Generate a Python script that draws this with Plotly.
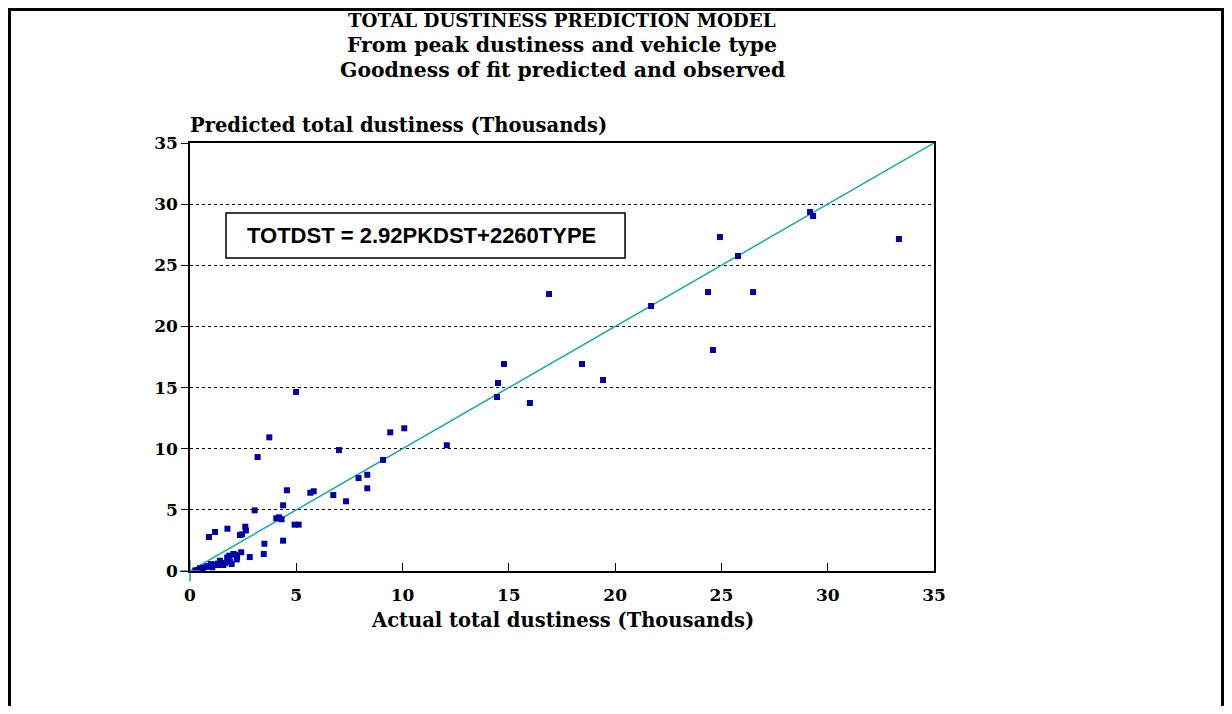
import plotly.graph_objects as go

# Observed (actual) vs predicted total dustiness, thousands
actual = [29.17, 29.31, 33.35, 24.93, 24.37, 26.49, 25.78, 24.60, 21.69, 16.89,
          18.44, 19.43, 14.77, 14.49, 14.44, 15.99, 12.08, 10.08, 9.42, 9.08,
          4.99, 3.73, 3.18, 7.01, 7.93, 8.34, 8.34, 7.34, 6.74, 5.66,
          5.82, 4.56, 4.38, 3.04, 4.92, 5.11, 4.06, 4.19, 4.31, 4.38,
          3.50, 3.47, 0.89, 1.18, 1.76, 2.60, 2.63, 2.35, 2.45, 2.81,
          2.41, 2.21, 2.12, 1.85, 2.04, 1.96, 1.88, 1.41, 1.57, 1.41,
          1.18, 0.99, 0.78, 0.63, 0.47, 0.39, 0.25, 0.55, 0.85, 1.05,
          1.30, 1.65, 2.20, 1.75]
predicted = [29.36, 29.03, 27.15, 27.31, 22.81, 22.81, 25.76, 18.07, 21.67, 22.65,
             16.93, 15.62, 16.93, 15.37, 14.23, 13.74, 10.28, 11.67, 11.34, 9.08,
             14.64, 10.93, 9.32, 9.89, 7.60, 7.87, 6.76, 5.70, 6.21, 6.40,
             6.52, 6.60, 5.37, 4.96, 3.79, 3.79, 4.31, 4.39, 4.23, 2.48,
             2.23, 1.39, 2.78, 3.19, 3.46, 3.62, 3.32, 2.94, 3.00, 1.14,
             1.53, 1.14, 1.33, 1.25, 1.39, 0.57, 0.76, 0.84, 0.49, 0.49,
             0.49, 0.57, 0.35, 0.27, 0.22, 0.08, 0.05, 0.15, 0.40, 0.30,
             0.60, 0.65, 0.95, 1.10]
fit_line = [0, 35]
tick_vals = [0, 5, 10, 15, 20, 25, 30, 35]

SERIF = "DejaVu Serif"

fig = go.Figure()
fig.add_trace(go.Scatter(
    x=fit_line, y=fit_line, mode="lines",
    line=dict(color="#14AAAA", width=1.5), hoverinfo="skip", showlegend=False))
fig.add_trace(go.Scatter(
    x=actual, y=predicted, mode="markers",
    marker=dict(symbol="square", size=6, color="#0000A8", line=dict(width=0)),
    showlegend=False))
fig.add_trace(go.Scatter(
    x=[fit_line[0]], y=[fit_line[0]], mode="markers", cliponaxis=False,
    marker=dict(symbol="cross-thin", size=15, line=dict(color="#14AAAA", width=1.5)),
    hoverinfo="skip", showlegend=False))

# page body has an 8px margin; size the figure so it fits the 1232x714 window
fig.update_layout(
    width=1216, height=698,
    margin=dict(l=182, r=290, t=135, b=135),
    paper_bgcolor="white", plot_bgcolor="white",
    font=dict(family=SERIF, color="black"),
)
fig.update_xaxes(
    range=[0, 35], tickvals=tick_vals, ticks="inside", ticklen=8, tickwidth=1.2,
    tickcolor="black", showline=True, linecolor="black", linewidth=1.5, mirror=True,
    showgrid=False, zeroline=False, ticklabelstandoff=8,
    tickfont=dict(family=SERIF, size=17, weight="bold", color="black"))
fig.update_yaxes(
    range=[0, 35], tickvals=tick_vals, ticks="outside", ticklen=7, tickwidth=1.2,
    tickcolor="black", showline=True, linecolor="black", linewidth=1.5, mirror=True,
    showgrid=True, gridcolor="black", gridwidth=1.2, griddash="dot", zeroline=False,
    tickfont=dict(family=SERIF, size=17, weight="bold", color="black"))

titles = ["TOTAL DUSTINESS PREDICTION MODEL", "From peak dustiness and vehicle type",
          "Goodness of fit predicted and observed"]
title_sizes = [18.3, 20.4, 20.4]
for i, t in enumerate(titles):
    fig.add_annotation(text=t, xref="paper", yref="paper", x=0.5, y=1.287 - i * 0.0585,
                       xanchor="center", yanchor="middle", showarrow=False,
                       font=dict(family=SERIF, size=title_sizes[i], weight="bold", color="black"))

fig.add_annotation(text="Predicted total dustiness (Thousands)", xref="paper", yref="paper",
                   x=-0.003, y=1.042, xanchor="left", yanchor="middle", showarrow=False,
                   font=dict(family=SERIF, size=19.5, weight="bold", color="black"))
fig.add_annotation(text="Actual total dustiness (Thousands)", xref="paper", yref="paper",
                   x=0.5, y=-0.1145, xanchor="center", yanchor="middle", showarrow=False,
                   font=dict(family=SERIF, size=19.5, weight="bold", color="black"))

# equation box
fig.add_shape(type="rect", xref="paper", yref="paper", x0=0.0484, x1=0.5847,
              y0=0.7313, y1=0.8364, line=dict(color="black", width=1.5),
              fillcolor="white", layer="above")
fig.add_annotation(text="TOTDST = 2.92PKDST+2260TYPE", xref="paper", yref="paper",
                   x=0.311, y=0.7839, xanchor="center", yanchor="middle", showarrow=False,
                   font=dict(family="Liberation Sans", size=22, weight="bold", color="black"))

# outer frame (open at the bottom, clipped by the figure edge)
fig.add_shape(type="rect", xref="paper", yref="paper", x0=-0.2426, x1=1.3878,
              y0=-0.45, y1=1.3119, line=dict(color="black", width=3), layer="above")

fig.write_html("out.html")
